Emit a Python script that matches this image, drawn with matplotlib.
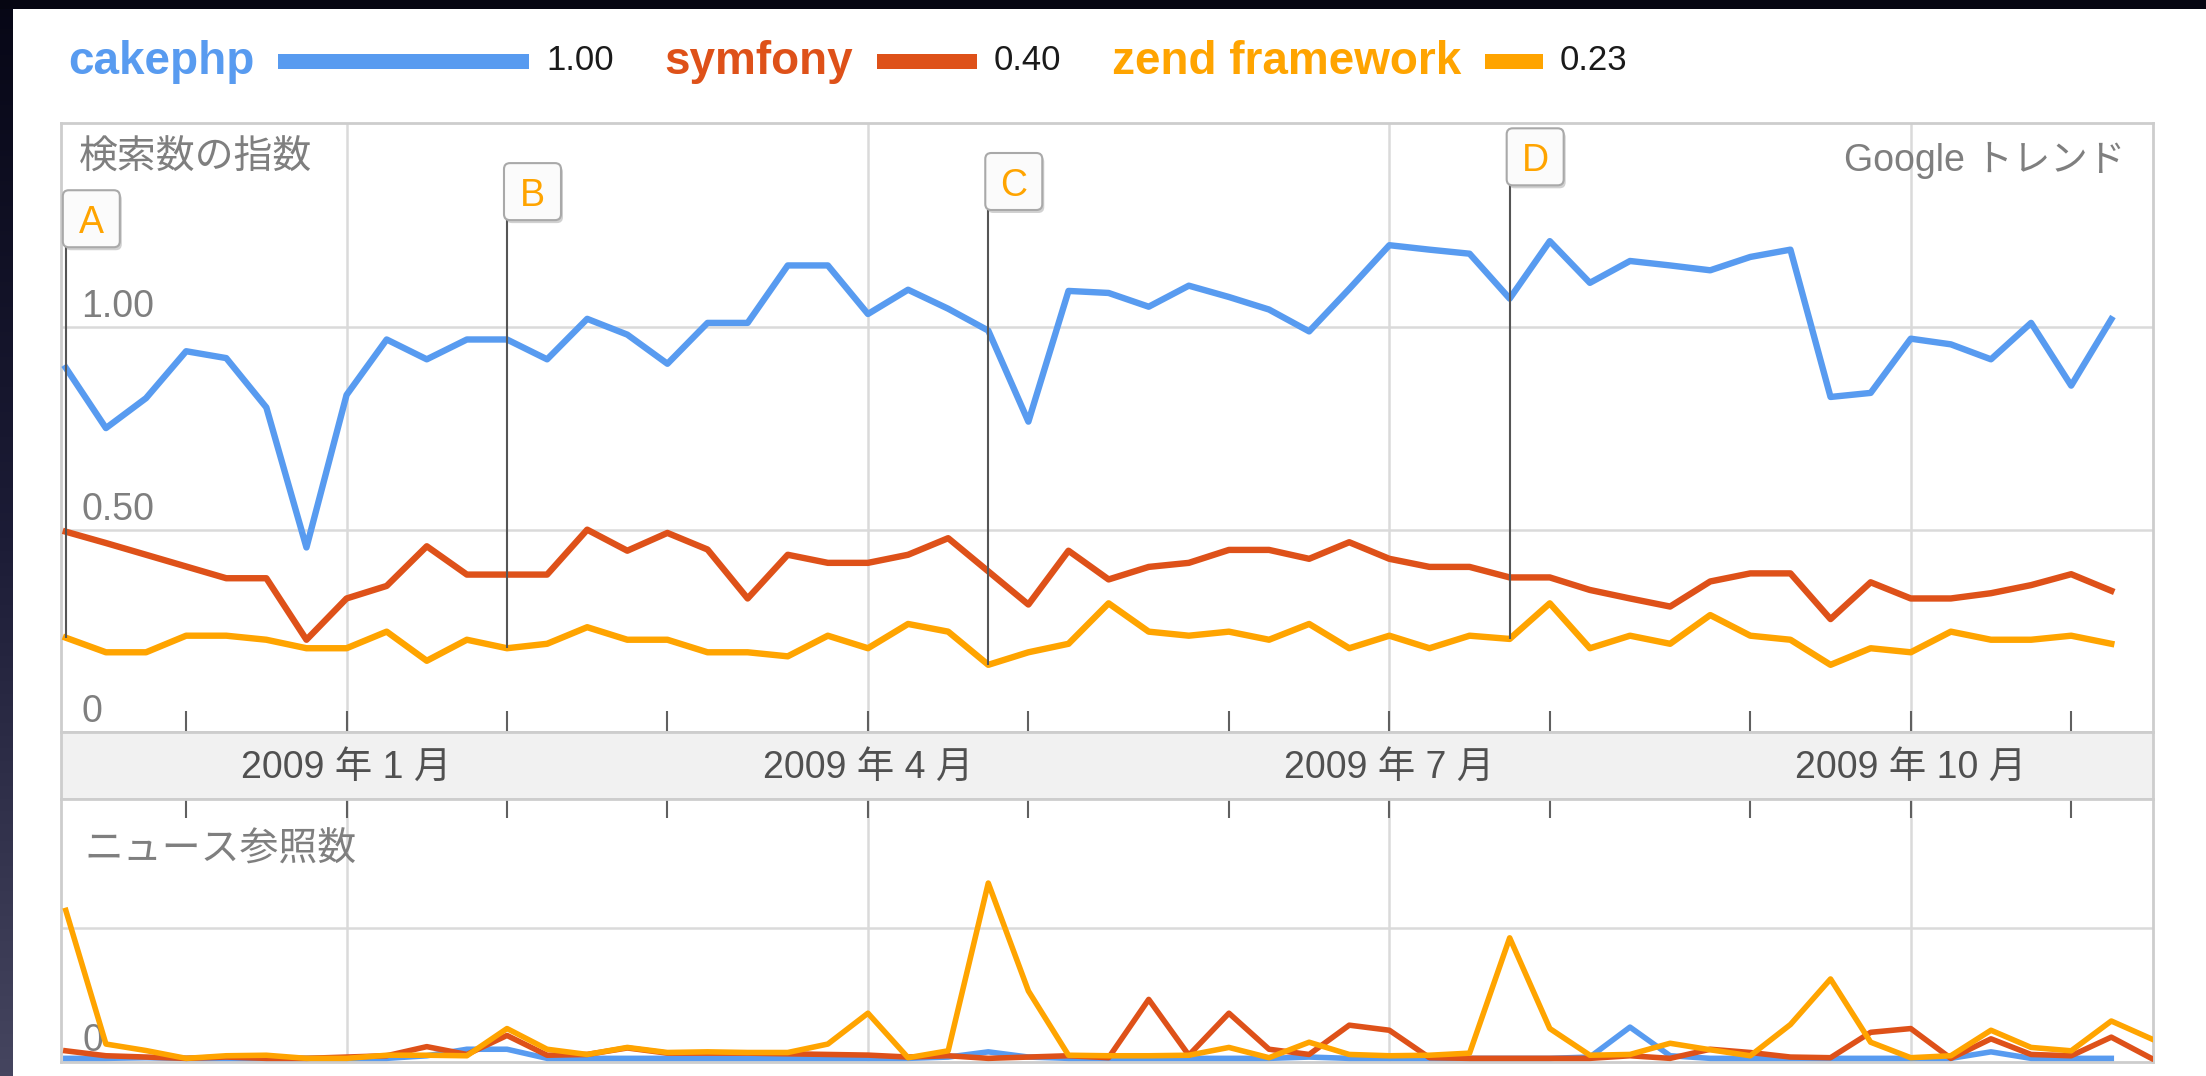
import matplotlib
matplotlib.use('Agg')
import matplotlib.pyplot as plt
import matplotlib.transforms as mtransforms
from matplotlib.patches import FancyBboxPatch, Rectangle
from matplotlib.colors import LinearSegmentedColormap
import numpy as np

plt.rcParams['font.family'] = ['Liberation Sans', 'Noto Sans CJK JP', 'DejaVu Sans']

# ---------------- data ----------------
series_names = ['cakephp', 'symfony', 'zend framework']
legend_values = [1.00, 0.40, 0.23]
legend_labels = ['1.00', '0.40', '0.23']

cakephp_search = [0.900, 0.751, 0.825, 0.941, 0.924, 0.802, 0.456, 0.833, 0.970, 0.921,
                  0.970, 0.970, 0.921, 1.021, 0.982, 0.910, 1.011, 1.011, 1.153, 1.153,
                  1.033, 1.093, 1.046, 0.992, 0.767, 1.090, 1.085, 1.051, 1.103, 1.075,
                  1.044, 0.990, 1.095, 1.203, 1.192, 1.182, 1.071, 1.213, 1.110, 1.164,
                  1.153, 1.141, 1.174, 1.192, 0.828, 0.838, 0.972, 0.958, 0.921, 1.011,
                  0.856, 1.020]
symfony_search = [0.495, 0.467, 0.438, 0.409, 0.380, 0.380, 0.228, 0.330, 0.361, 0.459,
                  0.389, 0.389, 0.389, 0.500, 0.448, 0.492, 0.451, 0.330, 0.438, 0.418,
                  0.418, 0.438, 0.479, 0.397, 0.315, 0.448, 0.377, 0.408, 0.418, 0.450,
                  0.450, 0.428, 0.469, 0.428, 0.408, 0.408, 0.382, 0.382, 0.351, 0.330,
                  0.310, 0.372, 0.392, 0.392, 0.279, 0.370, 0.330, 0.330, 0.343, 0.363,
                  0.390, 0.349]
zend_search = [0.233, 0.197, 0.197, 0.238, 0.238, 0.228, 0.207, 0.207, 0.248, 0.176,
               0.228, 0.207, 0.218, 0.259, 0.228, 0.228, 0.197, 0.197, 0.187, 0.238,
               0.207, 0.267, 0.248, 0.166, 0.197, 0.218, 0.318, 0.248, 0.238, 0.248,
               0.228, 0.267, 0.207, 0.238, 0.207, 0.238, 0.230, 0.318, 0.207, 0.238,
               0.218, 0.289, 0.238, 0.228, 0.166, 0.207, 0.197, 0.248, 0.228, 0.228,
               0.238, 0.218]

cakephp_news = [0.0, 0.0, 0.005, 0.0, 0.0, 0.0, 0.0, 0.0, 0.0, 0.02,
                0.07, 0.07, 0.0, 0.0, 0.0, 0.0, 0.0, 0.0, 0.0, 0.0,
                0.0, 0.0, 0.01, 0.05, 0.01, 0.0, 0.0, 0.0, 0.0, 0.0,
                0.0, 0.01, 0.0, 0.0, 0.0, 0.0, 0.0, 0.0, 0.01, 0.24,
                0.02, 0.0, 0.0, 0.0, 0.0, 0.0, 0.0, 0.0, 0.05, 0.0,
                0.0, 0.0]
symfony_news = [0.058, 0.02, 0.01, 0.0, 0.01, 0.0, 0.0, 0.01, 0.02, 0.09,
                0.03, 0.176, 0.024, 0.03, 0.08, 0.04, 0.04, 0.04, 0.035, 0.03,
                0.025, 0.01, 0.02, 0.0, 0.01, 0.02, 0.005, 0.453, 0.024, 0.347,
                0.07, 0.03, 0.255, 0.216, 0.005, 0.0, 0.0, 0.0, 0.0, 0.02,
                0.0, 0.07, 0.045, 0.01, 0.005, 0.2, 0.229, 0.0, 0.15, 0.03,
                0.02, 0.163, 0.0]
zend_news = [1.137, 0.11, 0.06, 0.0, 0.02, 0.024, 0.0, 0.0, 0.024, 0.024,
             0.02, 0.229, 0.07, 0.03, 0.084, 0.045, 0.05, 0.045, 0.045, 0.11,
             0.347, 0.005, 0.058, 1.347, 0.518, 0.024, 0.02, 0.02, 0.024, 0.084,
             0.005, 0.124, 0.03, 0.02, 0.024, 0.04, 0.926, 0.229, 0.024, 0.03,
             0.116, 0.066, 0.02, 0.26, 0.61, 0.124, 0.005, 0.02, 0.216, 0.084,
             0.058, 0.287, 0.15]

month_weeks = [3, 7, 11, 15, 20, 24, 29, 33, 37, 42, 46, 50]
quarter_weeks = [7, 20, 33, 46]
quarter_labels = ['2009 年 1 月', '2009 年 4 月', '2009 年 7 月', '2009 年 10 月']

event_letters = ['A', 'B', 'C', 'D']
event_weeks = [0, 11, 23, 36]

search_yticks = [0, 0.5, 1.0]
search_ylabels = ['0', '0.50', '1.00']

# ---------------- style ----------------
BLUE = '#589bf0'
RED = '#de5119'
ORANGE = '#ffa400'
series_colors = [BLUE, RED, ORANGE]
FRAME = '#cdcdcd'
GRID = '#dadada'
TICK = '#606060'
LABEL = '#7f7f7f'

W, H, DPI = 2206, 1076, 100
fig = plt.figure(figsize=(W / DPI, H / DPI), dpi=DPI)
fig.patch.set_facecolor('white')


def add_ax(x0, y0, x1, y1):
    return fig.add_axes([x0 / W, 1 - y1 / H, (x1 - x0) / W, (y1 - y0) / H])


L, R = 61, 2153
ax_top = add_ax(L, 123, R, 732)
ax_band = add_ax(L, 732, R, 799)
ax_bot = add_ax(L, 799, R, 1062)
XLIM = (-0.12, 52.04)
minor_weeks = [m for m in month_weeks if m not in quarter_weeks]

for ax in (ax_top, ax_band, ax_bot):
    ax.set_xlim(*XLIM)
    for s in ax.spines.values():
        s.set_color(FRAME)
        s.set_linewidth(2.0)

# ---- top (search index) ----
ax_top.set_ylim(0, 1.505)
ax_top.set_yticks(search_yticks[1:])
ax_top.tick_params(axis='y', length=0, labelleft=False)
ax_top.set_xticks(quarter_weeks)
ax_top.set_xticks(minor_weeks, minor=True)
ax_top.tick_params(axis='x', which='both', direction='in', length=15, width=1.5,
                   color=TICK, bottom=True, top=False, labelbottom=False)
ax_top.grid(True, axis='x', which='major', color=GRID, lw=1.8)
ax_top.grid(True, axis='y', which='major', color=GRID, lw=1.8)

for v, lab in zip(search_yticks, search_ylabels):
    ax_top.annotate(lab, xy=(0, v), xycoords=('axes fraction', 'data'),
                    xytext=(14.5, 7.3), textcoords='offset points', ha='left',
                    va='baseline', fontsize=27, color=LABEL, zorder=1)

wk = np.arange(len(cakephp_search))
for vals, col in zip([cakephp_search, symfony_search, zend_search], series_colors):
    ax_top.plot(wk, vals, color=col, lw=4.6, solid_joinstyle='round', zorder=3)

# ---- band ----
ax_band.set_facecolor('#f1f1f1')
ax_band.set_ylim(0, 1)
ax_band.set_xticks([])
ax_band.set_yticks([])
for w, lab in zip(quarter_weeks, quarter_labels):
    ax_band.text(w, 0.46, lab, ha='center', va='center', fontsize=27, color='#505050')

# ---- bottom (news) ----
ax_bot.set_ylim(-0.028, 1.993)
ax_bot.set_yticks([1.0])
ax_bot.tick_params(axis='y', length=0, labelleft=False)
ax_bot.set_xticks(quarter_weeks)
ax_bot.set_xticks(minor_weeks, minor=True)
ax_bot.tick_params(axis='x', which='both', direction='in', length=13.7, width=1.5,
                   color=TICK, bottom=False, top=True, labelbottom=False, labeltop=False)
ax_bot.grid(True, axis='x', which='major', color=GRID, lw=1.8)
ax_bot.grid(True, axis='y', which='major', color=GRID, lw=1.8)
ax_bot.annotate('0', xy=(0, 0), xycoords=('axes fraction', 'data'),
                xytext=(15.5, 5.5), textcoords='offset points', ha='left',
                va='baseline', fontsize=27, color=LABEL, zorder=1)
for vals, col in zip([cakephp_news, symfony_news, zend_news], series_colors):
    ax_bot.plot(np.arange(len(vals)), vals, color=col, lw=4.0,
                solid_joinstyle='round', zorder=3)

# ---- texts ----
fig.text(79 / W, 1 - 159 / H, '検索数の指数', fontsize=28, color=LABEL, ha='left', va='center')
fig.text(2125 / W, 1 - 160 / H, 'Google トレンド', fontsize=27, color=LABEL, ha='right', va='center')
fig.text(84 / W, 1 - 850 / H, 'ニュース参照数', fontsize=28, color=LABEL, ha='left', va='center')

# ---- event markers ----
event_box_bottoms = [1.198, 1.265, 1.290, 1.351]
fig.canvas.draw()
ident = mtransforms.IdentityTransform()
for letter, w, bottom in zip(event_letters, event_weeks, event_box_bottoms):
    ax_top.plot([w, w], [zend_search[w], bottom], color='#555555', lw=1.5,
                zorder=5, solid_capstyle='butt')
    px, py = ax_top.transData.transform((w, bottom))
    shadow = FancyBboxPatch((px - 1, py - 3), 57, 57,
                            boxstyle='round,pad=0,rounding_size=6', transform=ident,
                            fc='#9a9a9a', ec='none', alpha=0.45, zorder=6, clip_on=False)
    box = FancyBboxPatch((px - 3, py), 57, 57,
                         boxstyle='round,pad=0,rounding_size=6', transform=ident,
                         fc='#fbfbfb', ec='#a9a9a9', lw=1.5, zorder=7, clip_on=False)
    ax_top.add_patch(shadow)
    ax_top.add_patch(box)
    ax_top.text(px + 25.5, py + 14, letter, transform=ident, ha='center', va='baseline',
                fontsize=27, color=ORANGE, zorder=8, clip_on=False)

# ---- legend ----
renderer = fig.canvas.get_renderer()
x = 68
for name, val, lab, col in zip(series_names, legend_values, legend_labels, series_colors):
    t = fig.text(x / W, 1 - 62 / H, name, color=col, fontsize=33, fontweight='bold',
                 ha='left', va='center')
    bb = t.get_window_extent(renderer)
    x = bb.x1 + 24
    bar_len = val * 251
    fig.add_artist(Rectangle((x / W, 1 - 69 / H), bar_len / W, 15 / H,
                             transform=fig.transFigure, color=col, lw=0))
    x += bar_len + 17
    t2 = fig.text(x / W, 1 - 61 / H, lab, fontsize=25, color='#1a1a1a', ha='left', va='center')
    bb2 = t2.get_window_extent(renderer)
    x = bb2.x1 + 50

# ---- dark screen border ----
grad_ax = fig.add_axes([0, 0, 13 / W, 1])
cmap = LinearSegmentedColormap.from_list('edge', ['#070716', '#1c1c36', '#45455f'])
grad_ax.imshow(np.linspace(0, 1, 256).reshape(-1, 1), aspect='auto', cmap=cmap,
               extent=[0, 1, 1, 0])
grad_ax.axis('off')
fig.add_artist(Rectangle((0, 1 - 9 / H), 1, 9 / H, transform=fig.transFigure,
                         color='#060612', lw=0))

fig.savefig('out.png', dpi=DPI, facecolor=fig.get_facecolor())
